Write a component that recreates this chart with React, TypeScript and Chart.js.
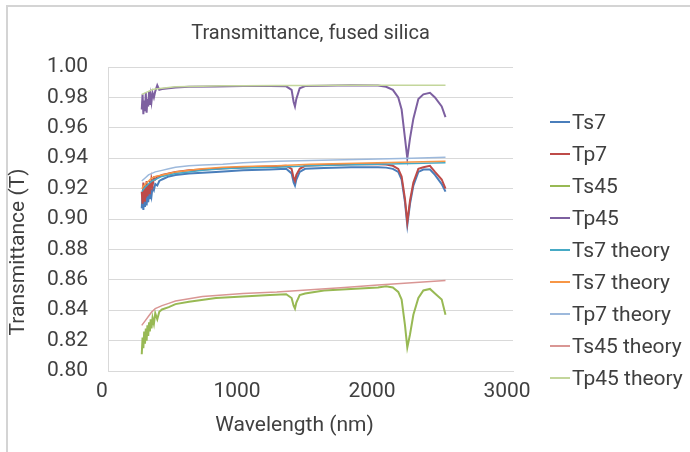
import React, { useEffect, useRef } from "react";
import { Chart, registerables } from "chart.js";

Chart.register(...registerables);

// ---------- data ----------
const chartTitle = "Transmittance, fused silica";
const xAxisTitle = "Wavelength (nm)";
const yAxisTitle = "Transmittance (T)";

const xTickValues = [0, 1000, 2000, 3000];
const yTickValues = [0.8, 0.82, 0.84, 0.86, 0.88, 0.9, 0.92, 0.94, 0.96, 0.98, 1.0];

const seriesNames = [
  "Ts7",
  "Tp7",
  "Ts45",
  "Tp45",
  "Ts7 theory",
  "Ts7 theory",
  "Tp7 theory",
  "Ts45 theory",
  "Tp45 theory",
];
const seriesColors = [
  "#4a7ebb",
  "#be4b48",
  "#98b954",
  "#7d60a0",
  "#46aac5",
  "#f79646",
  "#9db9dc",
  "#d99694",
  "#c3d69b",
];

// measured wavelengths (nm)
const measWl = [
  250, 256, 262, 268, 274, 280, 286, 292, 298, 304, 310, 316, 322, 330, 340, 350, 365, 380, 400, 450,
  500, 600, 800, 1000, 1200, 1320, 1360, 1375, 1385, 1395, 1420, 1460, 1600, 1800, 2000, 2060, 2110,
  2150, 2175, 2200, 2217, 2237, 2262, 2299, 2336, 2385, 2422, 2472, 2500,
];

const ts7 = [
  0.907, 0.917, 0.906, 0.915, 0.908, 0.918, 0.909, 0.916, 0.911, 0.919, 0.913, 0.918, 0.915, 0.921, 0.919,
  0.923, 0.922, 0.925, 0.926, 0.928, 0.929, 0.93, 0.931, 0.932, 0.9325, 0.933, 0.93, 0.924, 0.922, 0.926,
  0.931, 0.933, 0.9335, 0.934, 0.934, 0.9338, 0.933, 0.931, 0.926, 0.911, 0.896, 0.91, 0.922, 0.931,
  0.9325, 0.9325, 0.929, 0.923, 0.918,
];

const tp7 = [
  0.918, 0.91, 0.924, 0.912, 0.922, 0.914, 0.925, 0.915, 0.923, 0.917, 0.925, 0.919, 0.926, 0.922, 0.927,
  0.926, 0.928, 0.928, 0.929, 0.93, 0.931, 0.932, 0.933, 0.934, 0.9345, 0.935, 0.933, 0.927, 0.925, 0.929,
  0.933, 0.935, 0.9355, 0.936, 0.936, 0.9358, 0.935, 0.933, 0.928, 0.913, 0.898, 0.912, 0.924, 0.933,
  0.934, 0.935, 0.931, 0.926, 0.92,
];

const ts45 = [
  0.811, 0.822, 0.815, 0.826, 0.818, 0.828, 0.82, 0.83, 0.823, 0.832, 0.826, 0.834, 0.828, 0.835, 0.831,
  0.838, 0.834, 0.839, 0.8405, 0.842, 0.844, 0.8455, 0.848, 0.849, 0.85, 0.8505, 0.848, 0.843, 0.841,
  0.845, 0.85, 0.851, 0.853, 0.854, 0.855, 0.8557, 0.855, 0.852, 0.847, 0.83, 0.8155, 0.824, 0.837,
  0.848, 0.853, 0.854, 0.851, 0.847, 0.837,
];

const tp45 = [
  0.972, 0.982, 0.969, 0.978, 0.971, 0.983, 0.97, 0.979, 0.974, 0.984, 0.975, 0.981, 0.977, 0.983, 0.98,
  0.984, 0.988, 0.985, 0.9855, 0.986, 0.9865, 0.987, 0.9872, 0.9875, 0.9875, 0.9873, 0.985, 0.977, 0.974,
  0.979, 0.986, 0.9875, 0.9877, 0.988, 0.9878, 0.987, 0.985, 0.98, 0.972, 0.953, 0.94, 0.953, 0.966,
  0.979, 0.982, 0.983, 0.98, 0.974, 0.967,
];

// theory wavelengths (nm)
const theoryWl = [250, 275, 300, 325, 350, 400, 450, 500, 600, 700, 850, 1000, 1250, 1500, 1750, 2000, 2250, 2500];

const ts7TheoryA = [
  0.918, 0.921, 0.923, 0.925, 0.926, 0.928, 0.929, 0.93, 0.931, 0.932, 0.933, 0.9335, 0.934, 0.935, 0.9355,
  0.936, 0.9365, 0.937,
];
const ts7TheoryB = [
  0.92, 0.923, 0.925, 0.927, 0.928, 0.929, 0.93, 0.931, 0.932, 0.933, 0.934, 0.9345, 0.935, 0.936, 0.9365,
  0.937, 0.9375, 0.938,
];
const tp7Theory = [
  0.925, 0.927, 0.929, 0.93, 0.931, 0.932, 0.933, 0.934, 0.935, 0.9355, 0.936, 0.937, 0.938, 0.9385, 0.939,
  0.9395, 0.94, 0.9407,
];
const ts45Theory = [
  0.83, 0.833, 0.836, 0.839, 0.841, 0.843, 0.8445, 0.846, 0.8475, 0.849, 0.85, 0.851, 0.852, 0.8535, 0.855,
  0.8565, 0.858, 0.8595,
];
const tp45Theory = [
  0.982, 0.983, 0.984, 0.985, 0.9855, 0.986, 0.9865, 0.987, 0.9872, 0.9874, 0.9876, 0.9877, 0.9878, 0.9879,
  0.988, 0.988, 0.988, 0.988,
];

const seriesX = [measWl, measWl, measWl, measWl, theoryWl, theoryWl, theoryWl, theoryWl, theoryWl];
const seriesY = [ts7, tp7, ts45, tp45, ts7TheoryA, ts7TheoryB, tp7Theory, ts45Theory, tp45Theory];

// ---------- styles ----------
const FONT = "Roboto, 'Noto Sans', sans-serif";
const TEXT = "#404040";
const GRID = "#d9d9d9";

const axisTitlesPlugin = {
  id: "axisTitles",
  afterDraw(chart: any) {
    const { ctx, chartArea } = chart;
    ctx.save();
    ctx.font = `21px ${FONT}`;
    ctx.fillStyle = TEXT;
    ctx.textAlign = "center";
    ctx.textBaseline = "middle";
    ctx.fillText(xAxisTitle, (chartArea.left + chartArea.right) / 2 - 16, chartArea.bottom + 55);
    ctx.translate(19, (chartArea.top + chartArea.bottom) / 2 + 33);
    ctx.rotate(-Math.PI / 2);
    ctx.fillText(yAxisTitle, 0, 0);
    ctx.restore();
  },
};

function TransmittanceChart() {
  const ref = useRef<HTMLCanvasElement | null>(null);

  useEffect(() => {
    if (!ref.current) return;
    const datasets = seriesNames.map((name, i) => ({
      label: name,
      data: seriesX[i].map((x, j) => ({ x, y: seriesY[i][j] })),
      borderColor: seriesColors[i],
      backgroundColor: seriesColors[i],
      borderWidth: i < 4 ? 2 : 1.5,
      pointRadius: 0,
      tension: 0,
      fill: false,
      order: seriesNames.length - i,
    }));

    const chart = new Chart(ref.current, {
      type: "line",
      data: { datasets },
      plugins: [axisTitlesPlugin],
      options: {
        animation: false,
        responsive: false,
        devicePixelRatio: 1,
        layout: { padding: { left: 0, top: 0, right: 177, bottom: 0 } },
        plugins: {
          legend: { display: false },
          tooltip: { enabled: false },
          title: {
            display: true,
            fullSize: false,
            text: chartTitle,
            color: TEXT,
            font: { family: FONT, size: 20, weight: "normal" },
            padding: { top: 22, bottom: 21 },
          },
        },
        scales: {
          x: {
            type: "linear",
            min: 0,
            max: 3000,
            afterFit: (s: any) => {
              s.height = 81;
            },
            afterBuildTicks: (s: any) => {
              s.ticks = xTickValues.map((v) => ({ value: v }));
            },
            grid: { display: false, drawTicks: false },
            border: { display: true, color: GRID, width: 1 },
            ticks: {
              color: TEXT,
              font: { family: FONT, size: 21 },
              padding: 8,
              labelOffset: -6,
              maxRotation: 0,
              callback: (v: any) => String(v),
            },
          },
          y: {
            type: "linear",
            min: 0.8,
            max: 1.0,
            afterFit: (s: any) => {
              s.width = 108;
            },
            afterBuildTicks: (s: any) => {
              s.ticks = yTickValues.map((v) => ({ value: v }));
            },
            grid: { color: GRID, lineWidth: 1, drawTicks: false },
            border: { display: true, color: GRID, width: 1 },
            ticks: {
              color: TEXT,
              font: { family: FONT, size: 21 },
              padding: 20,
              callback: (v: any) => Number(v).toFixed(2),
            },
          },
        },
      },
    });
    return () => chart.destroy();
  }, []);

  return (
    <canvas
      ref={ref}
      width={690}
      height={452}
      style={{ position: "absolute", left: 0, top: 0, width: 690, height: 452, display: "block" }}
    />
  );
}

function Legend() {
  return (
    <div style={{ position: "absolute", left: 550, top: 0, fontFamily: FONT, fontSize: 21, color: TEXT }}>
      {seriesNames.map((name, i) => (
        <div
          key={i}
          style={{
            position: "absolute",
            left: 0,
            top: 122 + i * 32 - 13,
            height: 26,
            display: "flex",
            alignItems: "center",
            whiteSpace: "nowrap",
            lineHeight: "26px",
          }}
        >
          <span style={{ display: "inline-block", width: 20, height: 2, background: seriesColors[i], marginRight: 2 }} />
          <span>{name}</span>
        </div>
      ))}
    </div>
  );
}

export default function App() {
  return (
    <div style={{ position: "absolute", left: 0, top: 0, width: 690, height: 452, background: "#fff", overflow: "hidden" }}>
      <div
        style={{
          position: "absolute",
          left: 6,
          top: 5,
          width: 700,
          height: 460,
          borderTop: "2px solid #d4d4d4",
          borderLeft: "2px solid #d4d4d4",
        }}
      />
      <TransmittanceChart />
      <Legend />
    </div>
  );
}
